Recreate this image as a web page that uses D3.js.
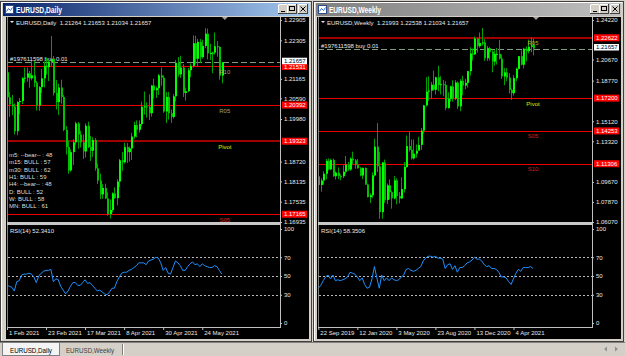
<!DOCTYPE html>
<html>
<head>
<meta charset="utf-8">
<script src="https://cdn.jsdelivr.net/npm/d3@7/dist/d3.min.js"></script>
<style>
  html, body { margin: 0; padding: 0; background: #d4d0c8; }
  svg { display: block; }
  text { font-family: "Liberation Sans", Arial, sans-serif; }
</style>
</head>
<body>
<div id="app"></div>
<script>
// EURUSD daily, 1 Feb 2021 - 4 Jun 2021
const dailyOpen = [1.2136,1.2062,1.2041,1.2035,1.1962,1.2048,1.2051,1.2118,1.2120,1.2133,
  1.2118,1.2127,1.2105,1.2038,1.2092,1.2118,1.2155,1.2151,1.2167,1.2175,
  1.2075,1.2048,1.2091,1.2063,1.1966,1.1915,1.1846,1.1900,1.1929,1.1985,
  1.1952,1.1929,1.1902,1.1978,1.1915,1.1904,1.1936,1.1852,1.1816,1.1775,
  1.1794,1.1763,1.1717,1.1729,1.1778,1.1764,1.1813,1.1876,1.1870,1.1915,
  1.1900,1.1911,1.1946,1.1980,1.1966,1.1983,1.2034,1.2035,1.2034,1.2015,
  1.2097,1.2083,1.2089,1.2127,1.2120,1.2020,1.2063,1.2015,1.2004,1.2065,
  1.2164,1.2130,1.2150,1.2075,1.2080,1.2142,1.2155,1.2222,1.2176,1.2226,
  1.2181,1.2214,1.2250,1.2192,1.2193,1.2194,1.2213,1.2211,1.21264];
const dailyHigh = [1.2150,1.2078,1.2069,1.2044,1.2050,1.2060,1.2122,1.2150,1.2150,1.2140,
  1.2169,1.2170,1.2110,1.2095,1.2146,1.2168,1.2180,1.2172,1.2243,1.2184,
  1.2113,1.2102,1.2114,1.2069,1.1977,1.1934,1.1908,1.1938,1.1990,1.1989,
  1.1963,1.1952,1.1985,1.1990,1.1948,1.1944,1.1942,1.1866,1.1836,1.1805,
  1.1807,1.1781,1.1760,1.1781,1.1796,1.1820,1.1880,1.1900,1.1928,1.1927,
  1.1917,1.1957,1.1990,1.1994,1.1994,1.2049,1.2079,1.2047,1.2071,1.2098,
  1.2117,1.2094,1.2131,1.2150,1.2127,1.2077,1.2078,1.2026,1.2072,1.2172,
  1.2181,1.2185,1.2160,1.2090,1.2149,1.2162,1.2245,1.2244,1.2235,1.2234,
  1.2232,1.2266,1.2265,1.2220,1.2197,1.2254,1.2228,1.2213,1.21653];
const dailyLow = [1.2058,1.2004,1.2009,1.1952,1.1950,1.2012,1.2042,1.2105,1.2108,1.2090,
  1.2112,1.2092,1.2023,1.2022,1.2075,1.2091,1.2129,1.2110,1.2154,1.2067,
  1.2026,1.2010,1.2043,1.1962,1.1893,1.1836,1.1842,1.1862,1.1922,1.1910,
  1.1914,1.1880,1.1884,1.1912,1.1874,1.1886,1.1845,1.1806,1.1761,1.1762,
  1.1761,1.1712,1.1704,1.1722,1.1762,1.1743,1.1797,1.1845,1.1866,1.1868,
  1.1872,1.1877,1.1940,1.1944,1.1958,1.1977,1.2011,1.2002,1.1995,1.2005,
  1.2059,1.2060,1.2069,1.2096,1.2016,1.1986,1.1996,1.1986,1.1999,1.2050,
  1.2123,1.2119,1.2063,1.2052,1.2078,1.2122,1.2150,1.2161,1.2152,1.2163,
  1.2176,1.2207,1.2174,1.2172,1.2133,1.2188,1.2182,1.2114,1.21034];
const dailyClose = [1.2062,1.2041,1.2035,1.1962,1.2048,1.2051,1.2118,1.2120,1.2133,1.2118,
  1.2127,1.2105,1.2038,1.2092,1.2118,1.2155,1.2151,1.2167,1.2175,1.2075,
  1.2048,1.2091,1.2063,1.1966,1.1915,1.1846,1.1900,1.1929,1.1985,1.1952,
  1.1929,1.1902,1.1978,1.1915,1.1904,1.1936,1.1852,1.1816,1.1775,1.1794,
  1.1763,1.1717,1.1729,1.1778,1.1764,1.1813,1.1876,1.1870,1.1915,1.1900,
  1.1911,1.1946,1.1980,1.1966,1.1983,1.2034,1.2035,1.2034,1.2015,1.2097,
  1.2083,1.2089,1.2127,1.2120,1.2020,1.2063,1.2015,1.2004,1.2065,1.2164,
  1.2130,1.2150,1.2075,1.2080,1.2142,1.2155,1.2222,1.2176,1.2226,1.2181,
  1.2214,1.2250,1.2192,1.2193,1.2194,1.2213,1.2211,1.2126,1.21657];
const dailyRsi = [40,39,38,34,44,45,51,52,52,53,52,49,43,50,53,55,56,56,57,44,
  47,46,39,35,31,34,39,43,43,40,40,43,46,42,43,40,37,34,35,33,
  31,30,33,37,37,44,49,53,54,54,56,57,59,61,64,64,64,62,66,67,
  68,70,69,64,56,59,53,52,59,66,64,61,56,56,60,63,65,62,63,60,
  63,61,60,59,59,61,60,56,52];
const dailyTickIdx = [0, 16, 32, 48, 64, 80];
const dailyTickLabels = ["1 Feb 2021", "23 Feb 2021", "17 Mar 2021", "8 Apr 2021", "30 Apr 2021", "24 May 2021"];
const dailyPriceTicks = [1.22905, 1.22305, 1.21705, 1.21165, 1.20590, 1.19980, 1.19380, 1.18720, 1.18135, 1.17535, 1.16935];
const dailyLevelNames = ["R10", "R05", "Pivot", "S05"];
const dailyLevelPrices = [1.21531, 1.20392, 1.19323, 1.17165];

// EURUSD weekly, 22 Sep 2019 - 30 May 2021
const weeklyOpen = [1.1017,1.0940,1.0980,1.1040,1.1156,1.1080,1.1165,1.1018,1.1051,1.1020,
  1.1018,1.1059,1.1122,1.1079,1.1176,1.1161,1.1122,1.1090,1.1025,1.1093,
  1.0944,1.0831,1.0848,1.1026,1.1284,1.1107,1.0696,1.1141,1.0804,1.0937,
  1.0875,1.0819,1.0981,1.0840,1.0819,1.0902,1.1101,1.1289,1.1256,1.1178,
  1.1220,1.1248,1.1300,1.1428,1.1655,1.1778,1.1788,1.1841,1.1795,1.1907,
  1.1837,1.1845,1.1838,1.1632,1.1714,1.1826,1.1717,1.1860,1.1646,1.1875,
  1.1833,1.1857,1.1962,1.2121,1.2113,1.2256,1.2187,1.2216,1.2220,1.2078,
  1.2169,1.2136,1.2048,1.2118,1.2118,1.2075,1.1915,1.1952,1.1904,1.1794,
  1.1764,1.1900,1.1983,1.2097,1.2020,1.2164,1.2142,1.2181,1.21993];
const weeklyHigh = [1.1025,1.0999,1.1063,1.1173,1.1179,1.1175,1.1176,1.1063,1.1097,1.1036,
  1.1117,1.1200,1.1147,1.1188,1.1239,1.1172,1.1173,1.1100,1.1096,1.1096,
  1.0950,1.0865,1.1053,1.1355,1.1496,1.1237,1.1147,1.1168,1.0952,1.0990,
  1.0889,1.1019,1.1000,1.0876,1.1009,1.1146,1.1384,1.1423,1.1348,1.1349,
  1.1303,1.1372,1.1452,1.1660,1.1908,1.1916,1.1866,1.1966,1.1913,1.2011,
  1.1917,1.1882,1.1872,1.1772,1.1831,1.1881,1.1881,1.1870,1.1891,1.1920,
  1.1894,1.1965,1.2177,1.2167,1.2273,1.2250,1.2310,1.2349,1.2250,1.2190,
  1.2179,1.2150,1.2150,1.2170,1.2243,1.2113,1.1990,1.1990,1.1944,1.1807,
  1.1928,1.1994,1.2098,1.2150,1.2172,1.2185,1.2245,1.2266,1.22538];
const weeklyLow = [1.0905,1.0879,1.0943,1.0991,1.1072,1.1073,1.1014,1.0989,1.0993,1.0981,
  1.1002,1.1040,1.1066,1.1066,1.1125,1.1086,1.1086,1.1018,1.0992,1.0940,
  1.0827,1.0778,1.0822,1.1016,1.1055,1.0636,1.0637,1.0778,1.0769,1.0812,
  1.0727,1.0811,1.0766,1.0775,1.0816,1.0872,1.1095,1.1240,1.1168,1.1168,
  1.1185,1.1252,1.1255,1.1402,1.1644,1.1697,1.1711,1.1787,1.1753,1.1782,
  1.1753,1.1737,1.1612,1.1625,1.1689,1.1689,1.1702,1.1622,1.1603,1.1746,
  1.1800,1.1815,1.1924,1.2058,1.2107,1.2130,1.2173,1.2194,1.2054,1.2053,
  1.2058,1.1952,1.2012,1.2022,1.2067,1.1893,1.1836,1.1874,1.1762,1.1704,
  1.1743,1.1872,1.1977,1.2016,1.1986,1.2052,1.2122,1.2133,1.21034];
const weeklyClose = [1.0940,1.0980,1.1040,1.1156,1.1080,1.1165,1.1018,1.1051,1.1020,1.1018,
  1.1059,1.1122,1.1079,1.1176,1.1161,1.1122,1.1090,1.1025,1.1093,1.0944,
  1.0831,1.0848,1.1026,1.1284,1.1107,1.0696,1.1141,1.0804,1.0937,1.0875,
  1.0819,1.0981,1.0840,1.0819,1.0902,1.1101,1.1289,1.1256,1.1178,1.1220,
  1.1248,1.1300,1.1428,1.1655,1.1778,1.1788,1.1841,1.1795,1.1907,1.1837,
  1.1845,1.1838,1.1632,1.1714,1.1826,1.1717,1.1860,1.1646,1.1875,1.1833,
  1.1857,1.1962,1.2121,1.2113,1.2256,1.2187,1.2216,1.2220,1.2078,1.2169,
  1.2136,1.2048,1.2118,1.2118,1.2075,1.1915,1.1952,1.1904,1.1794,1.1764,
  1.1900,1.1983,1.2097,1.2020,1.2164,1.2142,1.2181,1.2194,1.21657];
const weeklyRsi = [37,40,45,49,51,47,51,45,46,45,46,47,49,54,53,52,49,45,48,41,
  37,38,47,60,48,37,51,45,48,45,48,46,45,46,49,51,57,58,56,55,
  56,58,60,66,69,71,71,70,71,69,69,68,58,62,63,57,61,54,59,59,
  61,64,65,67,70,68,68,66,62,60,61,58,58,57,54,49,49,48,44,41,
  47,53,57,55,59,59,59,60,58];
const weeklyTickIdx = [0, 16, 32, 48, 64, 80];
const weeklyTickLabels = ["22 Sep 2019", "12 Jan 2020", "3 May 2020", "23 Aug 2020", "13 Dec 2020", "4 Apr 2021"];
const weeklyPriceTicks = [1.24220, 1.22420, 1.20670, 1.18770, 1.16970, 1.15120, 1.13320, 1.11520, 1.09670, 1.07870, 1.06070];
const weeklyLevelNames = ["R05", "Pivot", "S05", "S10"];
const weeklyLevelPrices = [1.22622, 1.17200, 1.14253, 1.11306];

const signalLines = ["m5: --bear-- : 48", "m15: BULL : 57", "m30: BULL : 62", "H1: BULL : 59",
  "H4: --bear-- : 48", "D: BULL : 52", "W: BULL : 58", "MN: BULL : 61"];

const bidPrice = 1.21657;

// ---- drawing ----
const svg = d3.select("#app").append("svg").attr("width", 625).attr("height", 356);
const defs = svg.append("defs");
svg.append("rect").attr("width", 625).attr("height", 356).attr("fill", "#d4d0c8");

function addGradient(id, c1, c2) {
  const gr = defs.append("linearGradient").attr("id", id)
    .attr("x1", "0%").attr("x2", "100%").attr("y1", "0%").attr("y2", "0%");
  gr.append("stop").attr("offset", "0%").attr("stop-color", c1);
  gr.append("stop").attr("offset", "100%").attr("stop-color", c2);
}
addGradient("titleOn", "#0a246a", "#a6caf0");
addGradient("titleOff", "#808080", "#c0c0c0");

function drawWindow(w) {
  const g = svg.append("g");
  const r = w.x + w.w;
  g.append("rect").attr("x", w.x + 0.5).attr("y", 1.5).attr("width", w.w - 1).attr("height", 340)
    .attr("fill", "#d4d0c8").attr("stroke", "#404040");
  g.append("path").attr("d", `M${w.x + 1.5},340.5V2.5H${r - 1.5}`).attr("stroke", "#ffffff").attr("fill", "none");
  g.append("rect").attr("x", w.x + 3).attr("y", 3).attr("width", w.w - 6).attr("height", 13)
    .attr("fill", `url(#${w.active ? "titleOn" : "titleOff"})`);

  // little chart icon
  g.append("rect").attr("x", w.x + 5.5).attr("y", 5.5).attr("width", 8).attr("height", 8)
    .attr("fill", "#ffffff").attr("stroke", "#2c4c8c");
  g.append("path").attr("d", `M${w.x + 6.5},11.5L${w.x + 8.5},8.5L${w.x + 10.5},10.5L${w.x + 12.5},7.5`)
    .attr("stroke", "#2c6cc8").attr("fill", "none");

  g.append("text").attr("x", w.x + 16).attr("y", 12.6).attr("fill", "#ffffff")
    .attr("font-size", 9).attr("font-weight", "bold")
    .attr("textLength", w.titleLen).attr("lengthAdjust", "spacingAndGlyphs").text(w.title);

  // min / max / close buttons
  [r - 34, r - 25, r - 14].forEach((bx, k) => {
    const b = g.append("g");
    b.append("rect").attr("x", bx + 0.5).attr("y", 4.5).attr("width", 9).attr("height", 9)
      .attr("fill", "#d4d0c8").attr("stroke", "#404040");
    b.append("path").attr("d", `M${bx + 0.5},13V4.5H${bx + 9}`).attr("stroke", "#ffffff").attr("fill", "none");
    if (k === 0) b.append("line").attr("x1", bx + 3).attr("x2", bx + 7).attr("y1", 11.5).attr("y2", 11.5).attr("stroke", "#000");
    if (k === 1) b.append("rect").attr("x", bx + 2.5).attr("y", 6.5).attr("width", 5).attr("height", 4).attr("fill", "none").attr("stroke", "#000");
    if (k === 2) b.append("path").attr("d", `M${bx + 2.5},6.5L${bx + 7.5},11.5M${bx + 7.5},6.5L${bx + 2.5},11.5`).attr("stroke", "#000");
  });

  g.append("rect").attr("x", w.bx0).attr("y", 17).attr("width", w.bx1 - w.bx0).attr("height", 322).attr("fill", "#000");
}

function drawChart(c) {
  const g = svg.append("g");
  const n = c.close.length;
  const x = d3.scaleLinear().domain([0, n - 1]).range([c.barX0, c.barX1]);
  const y = d3.scaleLinear().domain(c.priceDomain).range([222, 20]);
  const yr = d3.scaleLinear().domain([0, 100]).range([323, 229]);
  const axisColor = "#c0c0c0";
  const textColor = "#e8e8e8";
  const fmt = d3.format(".5f");

  const clipId = "clip" + c.id;
  defs.append("clipPath").attr("id", clipId).append("rect")
    .attr("x", c.x0).attr("y", 17).attr("width", c.x1 - c.x0).attr("height", 205);
  const main = g.append("g").attr("clip-path", `url(#${clipId})`);

  // pivot levels
  c.levelPrices.forEach((p, i) => {
    const thick = c.levelNames[i] === c.thickLevel;
    const ly = Math.round(y(p)) + (thick ? 0 : 0.5);
    main.append("line").attr("x1", c.x0).attr("x2", c.x1).attr("y1", ly).attr("y2", ly)
      .attr("shape-rendering", "crispEdges")
      .attr("stroke", thick ? "#a00000" : "#ee0000").attr("stroke-width", thick ? 2 : 1);
  });

  // order / bid line
  const yb = Math.round(y(bidPrice)) + 0.5;
  main.append("line").attr("x1", c.x0).attr("x2", c.x1).attr("y1", yb).attr("y2", yb)
    .attr("stroke", "#7c9c7c").attr("stroke-dasharray", "6,3");
  main.append("text").attr("x", c.x0 + 3).attr("y", yb - 1.5).attr("fill", textColor)
    .attr("font-size", 6).text("#197611598 buy 0.01");

  // candles
  const bars = main.append("g");
  d3.range(n).forEach(i => {
    const cx = Math.round(x(i));
    const up = c.close[i] >= c.open[i];
    bars.append("line").attr("x1", cx + 0.5).attr("x2", cx + 0.5)
      .attr("y1", y(c.high[i])).attr("y2", y(c.low[i]))
      .attr("stroke", "#00a000").attr("stroke-width", 1);
    const top = y(Math.max(c.open[i], c.close[i]));
    const h = Math.max(1, Math.abs(y(c.open[i]) - y(c.close[i])));
    bars.append("rect").attr("x", cx).attr("y", top).attr("width", 2).attr("height", h)
      .attr("fill", up ? "#00ff00" : "#00c000");
  });

  // level names
  c.levelPrices.forEach((p, i) => {
    const nm = c.levelNames[i];
    main.append("text").attr("x", x(n - 1) + c.labelShift).attr("y", y(p) + 7.5)
      .attr("text-anchor", "middle").attr("font-size", 6)
      .attr("fill", nm === "Pivot" ? "#e0e000" : nm[0] === "R" ? c.rColor : "#d02020")
      .text(nm);
  });

  // header
  g.append("path").attr("d", `M${c.x0 + 3},21L${c.x0 + 7},21L${c.x0 + 5},23Z`).attr("fill", textColor);
  g.append("text").attr("x", c.x0 + 9).attr("y", 25).attr("fill", textColor).attr("font-size", 6)
    .attr("xml:space", "preserve").text(c.header);

  // shift marker
  const sx = x(n - 1) + 3;
  g.append("path").attr("d", `M${sx - 3},17L${sx + 3},17L${sx},20Z`).attr("fill", "#a0a0a0");

  // info lines
  (c.info || []).forEach((t, i) => {
    g.append("text").attr("x", c.x0 + 2).attr("y", 157 + i * 7.33).attr("fill", "#dcdcdc")
      .attr("font-size", 6).text(t);
  });

  // price axis: labels hidden behind the level boxes are left out
  const boxYs = c.levelPrices.concat([bidPrice]).map(p => y(p));
  const visibleTicks = c.priceTicks.filter(t => boxYs.every(by => Math.abs(y(t) - by) >= 6));
  const pa = g.append("g").attr("transform", `translate(${c.x1},0)`)
    .call(d3.axisRight(y).tickValues(visibleTicks).tickSize(2).tickFormat(fmt));
  pa.select(".domain").remove();
  pa.selectAll(".tick line").attr("stroke", axisColor);
  pa.selectAll(".tick text").attr("fill", textColor).attr("font-size", 6).attr("x", 4)
    .attr("font-family", "'Liberation Sans', Arial, sans-serif");
  g.append("line").attr("x1", c.x1 + 0.5).attr("x2", c.x1 + 0.5).attr("y1", 17).attr("y2", 222).attr("stroke", axisColor);

  // level price boxes, then the bid box sitting slightly above its line
  c.levelPrices.forEach(p => {
    const yy = y(p);
    g.append("rect").attr("x", c.x1 + 2).attr("y", yy - 3.5).attr("width", 25).attr("height", 7).attr("fill", "#ff0000");
    g.append("text").attr("x", c.x1 + 4).attr("y", yy + 2.2).attr("fill", "#ffffff").attr("font-size", 6)
      .text(fmt(p));
  });
  const yy = y(bidPrice) - 1;
  g.append("rect").attr("x", c.x1 + 2).attr("y", yy - 3.5).attr("width", 25).attr("height", 6.5).attr("fill", "#ffffff");
  g.append("text").attr("x", c.x1 + 4).attr("y", yy + 1.8).attr("fill", "#000000").attr("font-size", 6)
    .text(fmt(bidPrice));

  // panel frames and separator
  g.append("line").attr("x1", c.x0 + 0.5).attr("x2", c.x0 + 0.5).attr("y1", 17).attr("y2", 327).attr("stroke", "#808080");
  g.append("rect").attr("x", c.x0).attr("y", 222).attr("width", c.x1 - c.x0 + 1).attr("height", 3).attr("fill", "#c8c8c8");

  // RSI panel
  [70, 50, 30].forEach(v => {
    g.append("line").attr("x1", c.x0 + 1).attr("x2", c.x1).attr("y1", Math.round(yr(v)) + 0.5).attr("y2", Math.round(yr(v)) + 0.5)
      .attr("stroke", "#b8b8b8").attr("stroke-dasharray", "2,2");
  });
  g.append("path").datum(c.rsi)
    .attr("d", d3.line().x((d, i) => x(i)).y(d => yr(d)))
    .attr("fill", "none").attr("stroke", "#1e90ff").attr("stroke-width", 1);
  g.append("text").attr("x", c.x0 + 3).attr("y", 233).attr("fill", textColor).attr("font-size", 6).text(c.rsiLabel);

  const ra = g.append("g").attr("transform", `translate(${c.x1},0)`)
    .call(d3.axisRight(yr).tickValues([100, 70, 50, 30, 0]).tickSize(2));
  ra.select(".domain").remove();
  ra.selectAll(".tick line").attr("stroke", axisColor);
  ra.selectAll(".tick text").attr("fill", textColor).attr("font-size", 6).attr("x", 4)
    .attr("font-family", "'Liberation Sans', Arial, sans-serif");
  g.append("line").attr("x1", c.x1 + 0.5).attr("x2", c.x1 + 0.5).attr("y1", 225).attr("y2", 327.5).attr("stroke", axisColor);

  // time axis
  const ta = g.append("g").attr("transform", "translate(0,327)")
    .call(d3.axisBottom(x).tickValues(c.tickIdx).tickSize(3).tickSizeOuter(0)
      .tickFormat((d, i) => c.tickLabels[i]));
  ta.select(".domain").attr("stroke", axisColor).attr("d", `M${c.x0},0.5H${c.x1 + 1}`);
  ta.selectAll(".tick line").attr("stroke", axisColor);
  ta.selectAll(".tick text").attr("fill", textColor).attr("font-size", 6).attr("text-anchor", "start")
    .attr("x", 1.5).attr("y", 4).attr("font-family", "'Liberation Sans', Arial, sans-serif");
}

drawWindow({ x: 0, w: 312, title: "EURUSD,Daily", titleLen: 46, active: true, bx0: 6, bx1: 309 });
drawWindow({ x: 313, w: 311, title: "EURUSD,Weekly", titleLen: 52, active: false, bx0: 317, bx1: 621 });

drawChart({
  id: "D", x0: 7, x1: 280, barX0: 7, barX1: 221.8,
  open: dailyOpen, high: dailyHigh, low: dailyLow, close: dailyClose, rsi: dailyRsi,
  priceDomain: [1.16935, 1.22905], priceTicks: dailyPriceTicks,
  levelNames: dailyLevelNames, levelPrices: dailyLevelPrices, thickLevel: "Pivot", rColor: "#a0a070", labelShift: 3,
  header: "EURUSD,Daily  1.21264 1.21653 1.21034 1.21657",
  rsiLabel: "RSI(14) 52.3410", tickIdx: dailyTickIdx, tickLabels: dailyTickLabels, info: signalLines
});
drawChart({
  id: "W", x0: 318, x1: 592, barX0: 318.3, barX1: 533,
  open: weeklyOpen, high: weeklyHigh, low: weeklyLow, close: weeklyClose, rsi: weeklyRsi,
  priceDomain: [1.06070, 1.24220], priceTicks: weeklyPriceTicks,
  levelNames: weeklyLevelNames, levelPrices: weeklyLevelPrices, thickLevel: "R05", rColor: "#b0b040", labelShift: 0,
  header: "EURUSD,Weekly  1.21993 1.22538 1.21034 1.21657",
  rsiLabel: "RSI(14) 58.3506", tickIdx: weeklyTickIdx, tickLabels: weeklyTickLabels
});

// tab bar
svg.append("line").attr("x1", 0).attr("x2", 625).attr("y1", 342.5).attr("y2", 342.5).attr("stroke", "#808080");
svg.append("rect").attr("x", 2.5).attr("y", 342.5).attr("width", 57).attr("height", 13).attr("fill", "#f4f4f4").attr("stroke", "#808080");
svg.append("text").attr("x", 10).attr("y", 352.5).attr("font-size", 7.5).attr("fill", "#000")
  .attr("textLength", 42).attr("lengthAdjust", "spacingAndGlyphs").text("EURUSD,Daily");
svg.append("text").attr("x", 66).attr("y", 352.5).attr("font-size", 7.5).attr("fill", "#404040")
  .attr("textLength", 48).attr("lengthAdjust", "spacingAndGlyphs").text("EURUSD,Weekly");
svg.append("line").attr("x1", 122.5).attr("x2", 122.5).attr("y1", 344).attr("y2", 355).attr("stroke", "#808080");
svg.append("line").attr("x1", 123.5).attr("x2", 123.5).attr("y1", 344).attr("y2", 355).attr("stroke", "#ffffff");
svg.append("path").attr("d", "M604,349L607,346.5L607,351.5Z").attr("fill", "#909090");
svg.append("path").attr("d", "M618,349L615,346.5L615,351.5Z").attr("fill", "#909090");
</script>
</body>
</html>
